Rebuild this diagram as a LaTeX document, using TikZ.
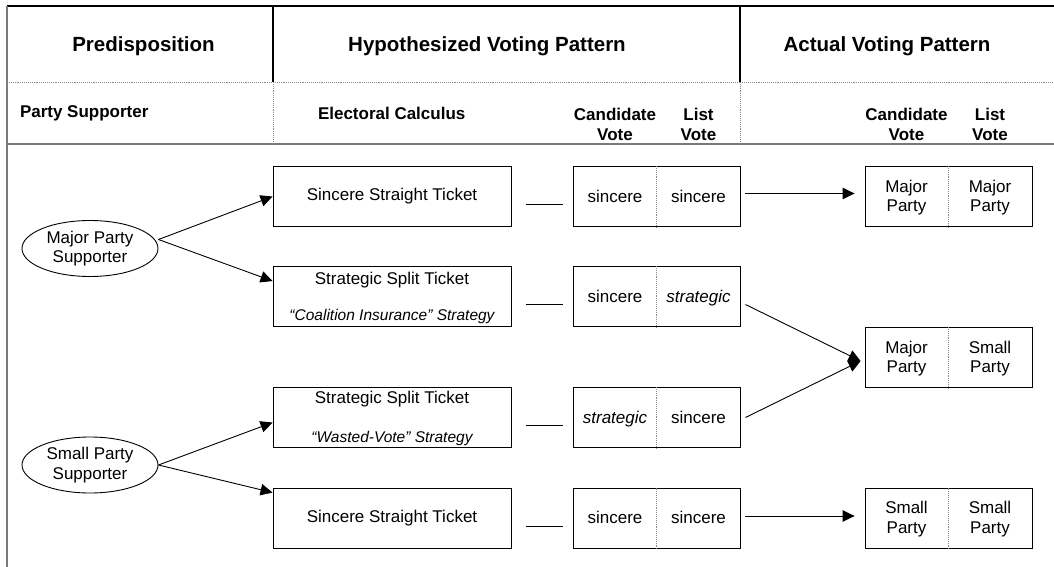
\documentclass[tikz,border=0pt]{standalone}
\usepackage{fontspec}
\setmainfont{Liberation Sans}
\usepackage{xcolor}
\usepackage{tikz}
\usetikzlibrary{positioning,calc,arrows.meta,shapes.geometric}
\definecolor{ink}{HTML}{000000}
\definecolor{rule}{HTML}{7A7A7A}
\definecolor{ruleii}{HTML}{8A8A8A}
\tikzset{
  frame/.style     = {draw=ink, line width=1.2pt},
  framegray/.style = {draw=rule, line width=1.5pt},
  dots/.style      = {draw=ruleii, line width=0.9pt, densely dotted},
  head/.style      = {font=\fontsize{20.5}{24}\selectfont\bfseries, inner sep=0pt, outer sep=0pt},
  subhead/.style   = {font=\fontsize{17}{20}\selectfont\bfseries, inner sep=0pt, outer sep=0pt, align=center},
  txt/.style       = {font=\fontsize{17}{19.5}\selectfont, inner sep=0pt, outer sep=0pt, align=center},
  cell/.style      = {font=\fontsize{17}{19.5}\selectfont, inner sep=0pt, outer sep=0pt,
                      text height=12.5pt, text depth=3.5pt},
  txtit/.style     = {font=\fontsize{15.5}{18}\selectfont\itshape, inner sep=0pt, outer sep=0pt},
  party/.style     = {ellipse, draw=ink, line width=0.9pt, minimum width=136pt, minimum height=56pt,
                      inner sep=0pt, align=center, font=\fontsize{17}{19.5}\selectfont},
  calcbox/.style   = {draw=ink, line width=0.9pt, minimum width=238pt, minimum height=60pt, inner sep=0pt,
                      font=\fontsize{17}{19.5}\selectfont},
  votebox/.style   = {draw=ink, line width=0.9pt, minimum width=167pt, minimum height=60pt, inner sep=0pt},
  flow/.style      = {-{Triangle[length=12pt,width=11.5pt]}, draw=ink, line width=0.9pt},
  tie/.style       = {draw=ink, line width=0.9pt},
}

\begin{document}
\begin{tikzpicture}[x=1pt,y=-1pt]
\path[use as bounding box] (0,0) rectangle (1054,567);

% ---- table head ---------------------------------------------------------
\draw[frame]     (7,6) -- (1054,6);
\draw[framegray] (7,6) -- (7,567);
\draw[dots]      (7,82) -- (1054,82);
\draw[framegray] (7,144) -- (1054,144);
\foreach \cx in {273,740}{
  \draw[frame] (\cx,6) -- (\cx,82);
  \draw[dots]  (\cx,82) -- (\cx,144);
}

\node[head] (hpre) at (143.5,46) {Predisposition};
\node[head] (hhyp) at (487,46)   {Hypothesized Voting Pattern};
\node[head] (hact) at (887,46)   {Actual Voting Pattern};

\node[subhead, anchor=west] (hsup) at (20,113)  {Party Supporter};
\node[subhead, anchor=west] (hcal) at (318,113) {Electoral Calculus};
\node[subhead] (hcand) at (615,124)   {Candidate\\Vote};
\node[subhead] (hlist) at (698.5,124) {List\\Vote};
\node[subhead] (hacand) at (906.5,124) {Candidate\\Vote};
\node[subhead] (halist) at (990,124)   {List\\Vote};

% ---- supporters ---------------------------------------------------------
\node[party] (maj) at (90,248.5) {Major Party\\Supporter};
\node[party] (sml) at (90,465)   {Small Party\\Supporter};

% ---- electoral calculus -------------------------------------------------
\node[calcbox] (e1) at (392,196.5) {Sincere Straight Ticket};
\node[calcbox] (e2) at (392,296.5) {};
\node[txt]   (e2a) at ($(e2.north)+(0,14)$) {Strategic Split Ticket};
\node[txtit] (e2b) at ($(e2.south)+(0,-10)$) {“Coalition Insurance” Strategy};
\node[calcbox] (e3) at (392,417.5) {};
\node[txt]   (e3a) at ($(e3.north)+(0,12)$) {Strategic Split Ticket};
\node[txtit] (e3b) at ($(e3.south)+(0,-9)$) {“Wasted-Vote” Strategy};
\node[calcbox] (e4) at (392,518) {Sincere Straight Ticket};

% ---- hypothesized votes -------------------------------------------------
\foreach \n/\vy/\vl/\vr in {1/196.5/sincere/sincere,
                            2/296.5/sincere/\textit{strategic},
                            3/417.5/\textit{strategic}/sincere,
                            4/518/sincere/sincere}{
  \node[votebox] (v\n) at (656.5,\vy) {};
  \draw[dots] (v\n.north) -- (v\n.south);
  \node[cell] (v\n l) at ($(v\n.center)+(-41.5,1)$) {\vl};
  \node[cell] (v\n r) at ($(v\n.center)+(42,1)$)   {\vr};
  \draw[tie] ($(e\n.east)+(15,8)$) -- ($(v\n.west)+(-10,8)$);
}

% ---- actual votes -------------------------------------------------------
\foreach \n/\vy/\vl/\vr in {1/196.5/Major/Major, 2/357.5/Major/Small, 3/518/Small/Small}{
  \node[votebox] (a\n) at (948.5,\vy) {};
  \draw[dots] (a\n.north) -- (a\n.south);
  \node[txt] (a\n l) at ($(a\n.center)+(-42,1)$)  {\vl\\Party};
  \node[txt] (a\n r) at ($(a\n.center)+(41.5,1)$) {\vr\\Party};
}

% ---- flows --------------------------------------------------------------
\draw[flow] ($(maj.east)+(0,-9)$) -- (e1.west);
\draw[flow] ($(maj.east)+(0,-9)$) -- ($(e2.north west)+(0,15)$);
\draw[flow] (sml.east) -- ($(e3.west)+(0,5)$);
\draw[flow] (sml.east) -- ($(e4.north west)+(0,5)$);

\draw[flow] ($(v1.east)+(5,-3)$) -- ($(a1.west)+(-10,-3)$);
\draw[flow] ($(v2.east)+(5,8)$)  -- ($(a2.west)+(-4,3.5)$);
\draw[flow] ($(v3.east)+(5,0)$)  -- ($(a2.west)+(-4,3.5)$);
\draw[flow] ($(v4.east)+(5,-2)$) -- ($(a3.west)+(-10,-2)$);

\end{tikzpicture}
\end{document}
